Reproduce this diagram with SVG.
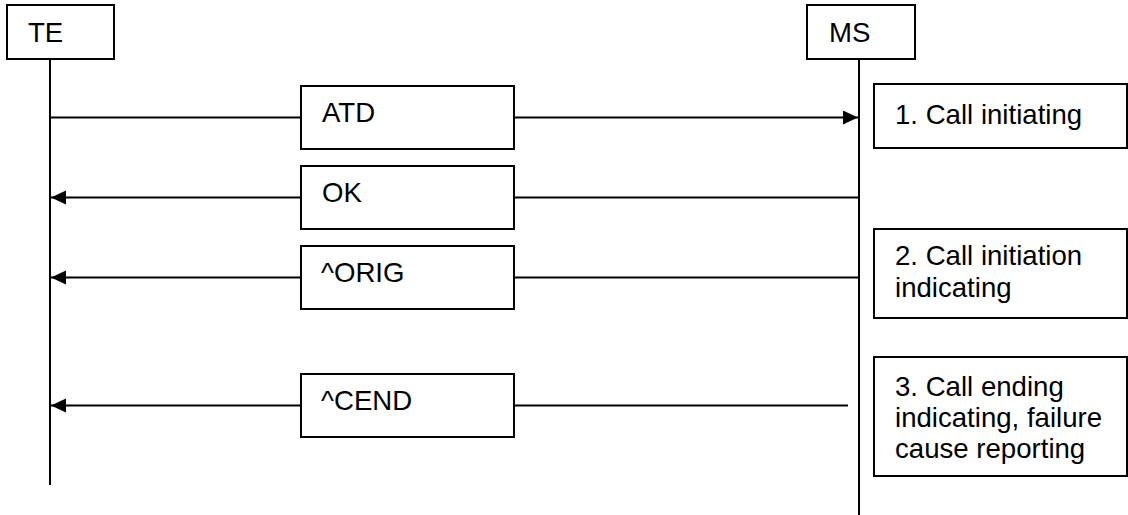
<svg xmlns="http://www.w3.org/2000/svg" width="1128" height="515" viewBox="0 0 1128 515">
<style>
.box{fill:#fff;stroke:#000;stroke-width:2}
.ln{stroke:#000;stroke-width:2;fill:none}
.t{font-family:"Liberation Sans",Arial,sans-serif;font-size:27.6px;fill:#000}
</style>
<defs>
<marker id="ah" markerUnits="userSpaceOnUse" markerWidth="16" markerHeight="15" refX="15" refY="7" orient="auto">
<path d="M0,0 L15,7 L0,14 z" fill="#000"/>
</marker>
</defs>
<rect width="1128" height="515" fill="#fff"/>
<g id="connectors">
<line class="ln" x1="50" y1="59" x2="50" y2="485"/>
<line class="ln" x1="859" y1="59" x2="859" y2="515"/>
<line class="ln" x1="50" y1="117.5" x2="858" y2="117.5" marker-end="url(#ah)"/>
<line class="ln" x1="859" y1="197.5" x2="51" y2="197.5" marker-end="url(#ah)"/>
<line class="ln" x1="859" y1="277.5" x2="51" y2="277.5" marker-end="url(#ah)"/>
<line class="ln" x1="848" y1="405.5" x2="51" y2="405.5" marker-end="url(#ah)"/>
</g>
<g id="TE">
<rect class="box" x="7" y="5" width="107" height="54"/>
<text class="t" x="28" y="42">TE</text>
</g>
<g id="MS">
<rect class="box" x="807" y="5" width="108" height="54"/>
<text class="t" x="829" y="42">MS</text>
</g>
<g id="ATD">
<rect class="box" x="301" y="86" width="213" height="63"/>
<text class="t" x="322" y="122">ATD</text>
</g>
<g id="OK">
<rect class="box" x="301" y="166" width="213" height="63"/>
<text class="t" x="322" y="202">OK</text>
</g>
<g id="ORIG">
<rect class="box" x="301" y="246" width="213" height="63"/>
<text class="t" x="321" y="282">^ORIG</text>
</g>
<g id="CEND">
<rect class="box" x="301" y="374" width="213" height="63"/>
<text class="t" x="321" y="410">^CEND</text>
</g>
<g id="note1">
<rect class="box" x="874" y="84" width="253" height="64"/>
<text class="t" x="895" y="124">1. Call initiating</text>
</g>
<g id="note2">
<rect class="box" x="874" y="229" width="253" height="89"/>
<text class="t" x="895" y="265">2. Call initiation</text>
<text class="t" x="895" y="297">indicating</text>
</g>
<g id="note3">
<rect class="box" x="874" y="357" width="253" height="119"/>
<text class="t" x="895" y="396">3. Call ending</text>
<text class="t" x="895" y="427">indicating, failure</text>
<text class="t" x="895" y="458">cause reporting</text>
</g>
</svg>
